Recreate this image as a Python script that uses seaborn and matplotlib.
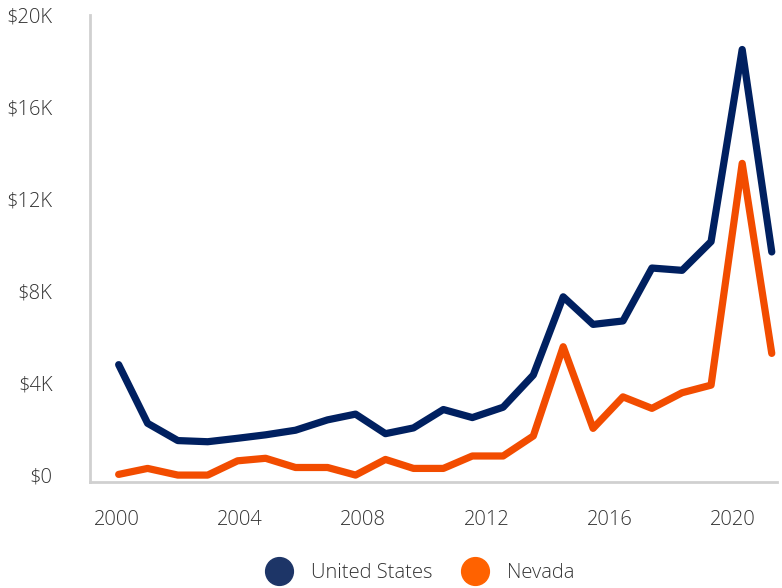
import pandas as pd
import numpy as np
import matplotlib
matplotlib.use('Agg')
import matplotlib.pyplot as plt
import seaborn as sns
from matplotlib.lines import Line2D
from matplotlib.ticker import FuncFormatter

# values (x in decimal years)
years = [2000.06, 2001.0, 2001.98, 2002.95, 2003.92, 2004.83, 2005.8, 2006.84,
         2007.75, 2008.72, 2009.63, 2010.6, 2011.54, 2012.54, 2013.52, 2014.49,
         2015.46, 2016.43, 2017.37, 2018.35, 2019.29, 2020.3, 2021.26]
us_vals = [4800, 2250, 1500, 1450, 1600, 1750, 1950, 2400, 2650, 1800, 2050, 2850,
           2500, 2950, 4350, 7750, 6550, 6700, 9000, 8900, 10150, 18500, 9700]
nv_vals = [30, 290, 0, 0, 620, 730, 330, 330, 0, 680, 290, 290, 830, 830, 1700,
           5580, 2030, 3400, 2900, 3580, 3910, 13550, 5290]
series = ['United States', 'Nevada']
line_colors = ['#002060', '#F24C00']
legend_colors = ['#1D3567', '#FF6200']
x_ticks = [2000, 2004, 2008, 2012, 2016, 2020]
y_ticks = [0, 4000, 8000, 12000, 16000, 20000]

df = pd.DataFrame({
    'year': years * 2,
    'value': us_vals + nv_vals,
    'series': [series[0]] * len(years) + [series[1]] * len(years),
})

sns.set_style('white')
plt.rcParams['font.family'] = ['Open Sans', 'DejaVu Sans']
plt.rcParams['font.weight'] = 'light'

fig = plt.figure(figsize=(7.82, 5.88), dpi=100)
ax = fig.add_axes([0.1151, 0.1803, 0.8785, 0.7942])

sns.lineplot(data=df, x='year', y='value', hue='series', palette=line_colors,
             linewidth=5.2, ax=ax, legend=False, solid_capstyle='round',
             solid_joinstyle='round')

ax.set_xlim(1999.13, 2021.43)
ax.set_ylim(-300, 20000)
ax.set_xticks(x_ticks)
ax.set_yticks(y_ticks)
ax.yaxis.set_major_formatter(FuncFormatter(lambda v, p: '$0' if v == 0 else f'${int(v/1000)}K'))
ax.set_xlabel('')
ax.set_ylabel('')

for s in ['top', 'right']:
    ax.spines[s].set_visible(False)
for s in ['left', 'bottom']:
    ax.spines[s].set_color('#D0D0D0')
    ax.spines[s].set_linewidth(2)

ax.tick_params(axis='both', direction='in', length=9.5, width=1.5, color='#D0D0D0',
               labelsize=14.5, labelcolor='#333333', pad=20)
ax.tick_params(axis='y', pad=27)
ax.yaxis.get_major_ticks()[0].tick1line.set_visible(False)

handles = [Line2D([0], [0], marker='o', linestyle='', markersize=20,
                  markerfacecolor=c, markeredgecolor=c) for c in legend_colors]
fig.legend(handles, series, loc='center', bbox_to_anchor=(0.538, 0.025), ncol=2,
           frameon=False, fontsize=14.5, handletextpad=1.0, columnspacing=1.5,
           labelcolor='#333333', handlelength=1.2)

plt.savefig('out.png', dpi=100)
